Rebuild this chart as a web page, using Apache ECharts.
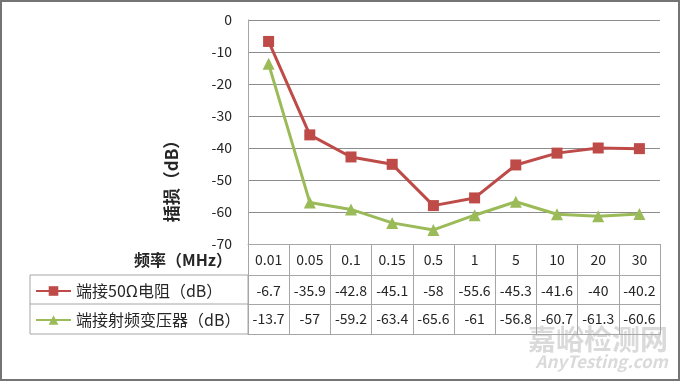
<!DOCTYPE html>
<html><head><meta charset="utf-8">
<script src="https://cdn.jsdelivr.net/npm/echarts@6/dist/echarts.min.js"></script>
<style>html,body{margin:0;padding:0;background:#fff}#c{width:680px;height:381px;box-sizing:border-box;border:2px solid #747474}</style>
</head><body><div id="c"></div>
<script>
const categories = ['0.01','0.05','0.1','0.15','0.5','1','5','10','20','30'];
const resistor = [-6.7,-35.9,-42.8,-45.1,-58,-55.6,-45.3,-41.6,-40,-40.2];
const transformer = [-13.7,-57,-59.2,-63.4,-65.6,-61,-56.8,-60.7,-61.3,-60.6];
const seriesNames = ['端接50Ω电阻（dB）','端接射频变压器（dB）'];
const yTicks = {min:-70, max:0, interval:10};
const xTitle = '频率（MHz）';
const yTitle = '插损（dB）';

const FONT = '"Noto Sans CJK SC", "Noto Sans", sans-serif';
const GRID = {left:246, right:18, top:18, bottom:135};
const lineCol = '#a6a6a6';
const txt = '#262626';

const chart = echarts.init(document.getElementById('c'), null, {renderer:'canvas'});
const H = 377;
const gBottom = H - GRID.bottom;

function rowAxis(offset, labels, margin, showLine, extra) {
  return Object.assign({
    type:'category', data: labels, position:'bottom', offset: offset, boundaryGap:true,
    axisLine:{show:showLine, onZero:false, lineStyle:{color:lineCol, width:1}},
    axisTick:{show:false},
    axisLabel:{show: !!labels.length, interval:0, margin:margin, verticalAlign:'middle',
      fontSize:14, color:txt, fontFamily:FONT, hideOverlap:false},
    splitLine:{show:false}
  }, extra || {});
}

chart.setOption({
  backgroundColor:'#fff',
  animation:false,
  grid: GRID,
  xAxis: [
    {type:'category', data:categories, position:'bottom', boundaryGap:true,
     axisLine:{show:true, onZero:false, lineStyle:{color:lineCol}},
     axisTick:{show:true, length:90, interval:0, lineStyle:{color:lineCol}},
     axisLabel:{show:false}, splitLine:{show:false}},
    rowAxis(16, categories, 0, false, {name:xTitle, nameLocation:'start', nameGap:16,
      nameTextStyle:{fontSize:16, fontWeight:'bold', color:txt, fontFamily:FONT, verticalAlign:'middle'}}),
    rowAxis(31, resistor.map(String), 16, true),
    rowAxis(60, transformer.map(String), 15, true),
    rowAxis(90, [], 0, true)
  ],
  yAxis: {
    type:'value', min:yTicks.min, max:yTicks.max, interval:yTicks.interval,
    axisLine:{show:true, lineStyle:{color:lineCol}},
    axisTick:{show:false},
    axisLabel:{fontSize:14, color:txt, fontFamily:FONT, margin:16},
    splitLine:{lineStyle:{color:'#8c8c8c', width:1}},
    name:yTitle, nameLocation:'middle', nameGap:68, nameRotate:90,
    nameTextStyle:{fontSize:17, fontWeight:'bold', color:txt, fontFamily:FONT, padding:[0,90,0,0]}
  },
  legend: {
    orient:'vertical', left:33, top:281, padding:0, itemGap:13, itemWidth:35, itemHeight:12,
    textStyle:{fontSize:16, color:txt, fontFamily:FONT},
    data: seriesNames
  },
  series: [
    {name:seriesNames[0], type:'line', data:resistor, symbol:'rect', symbolSize:11,
     itemStyle:{color:'#BE4B48'}, lineStyle:{color:'#BE4B48', width:3}},
    {name:seriesNames[1], type:'line', data:transformer, symbol:'triangle', symbolSize:12,
     itemStyle:{color:'#9BBB59'}, lineStyle:{color:'#9BBB59', width:3}}
  ],
  graphic: [
    {type:'rect', shape:{x:28, y:gBottom+31, width:GRID.left-28, height:59},
     style:{fill:null, stroke:lineCol, lineWidth:1}, silent:true},
    {type:'line', shape:{x1:28, y1:gBottom+60, x2:GRID.left, y2:gBottom+60},
     style:{stroke:lineCol, lineWidth:1}, silent:true},
    {type:'text', right:10, bottom:26, style:{text:'嘉峪检测网', fontSize:28, fontWeight:'bold', fill:'rgba(150,150,150,0.35)', fontFamily:FONT}},
    {type:'text', right:10, bottom:9, style:{text:'AnyTesting.com', fontSize:17, fontStyle:'italic', fontWeight:'bold', fill:'rgba(150,150,150,0.35)', fontFamily:FONT}}
  ]
});
</script></body></html>
